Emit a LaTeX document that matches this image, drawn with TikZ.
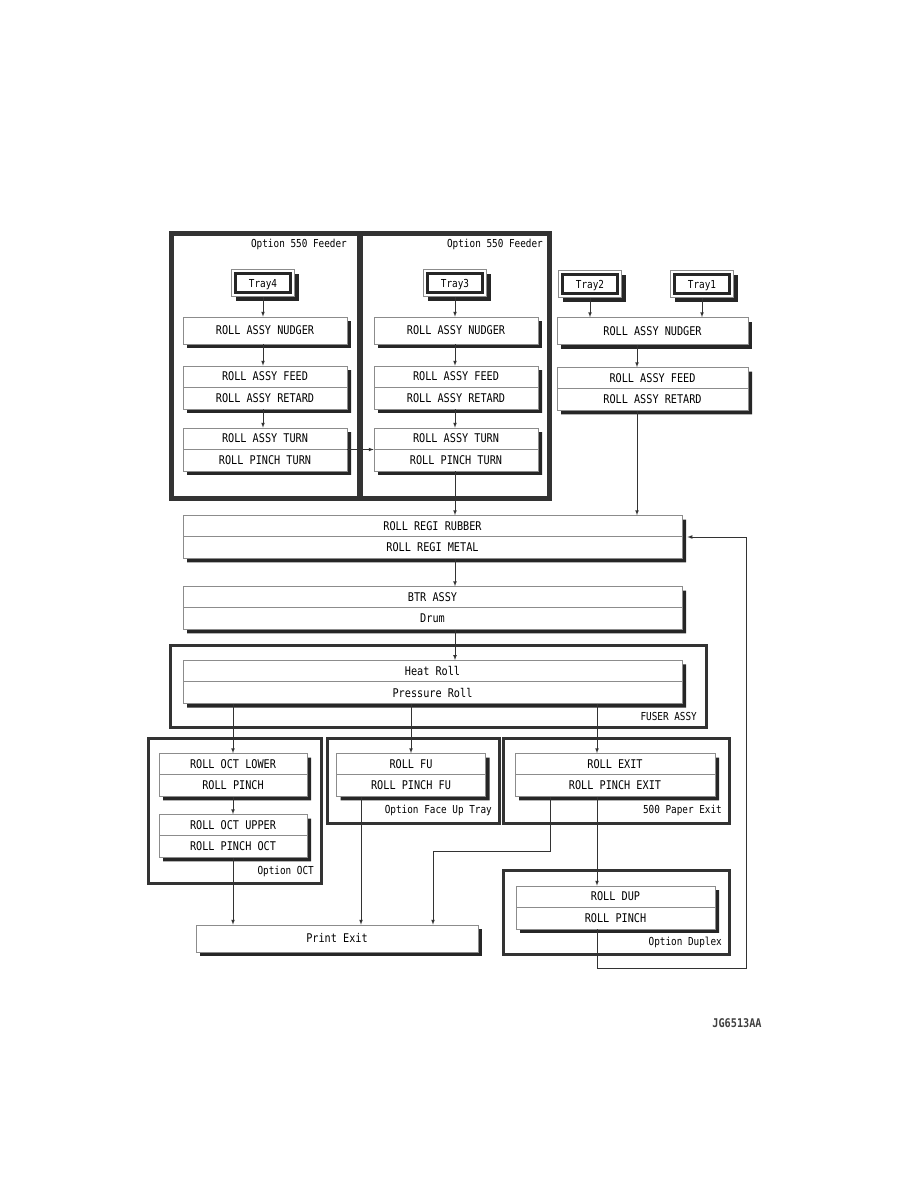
\documentclass[tikz,border=0pt]{standalone}
\usepackage{fontspec}
\newfontfamily\partfont[FakeStretch=0.85]{DejaVu Sans Mono}
\usepackage{tikz}
\usetikzlibrary{shapes.multipart}
\usetikzlibrary{shadows}
\usetikzlibrary{arrows}

\tikzset{
	rollbase/.style={draw=black!45, line width=0.7pt, fill=white, inner xsep=0pt,
		font=\partfont\fontsize{12}{14}\selectfont, text height=8.5pt, text depth=0pt,
		drop shadow={shadow xshift=4pt, shadow yshift=-4pt, fill=black!85, opacity=1}},
	rollbox/.style={rollbase, minimum width=#1pt, minimum height=27pt, inner ysep=0pt},
	rollpair/.style={rollbase, rectangle split, rectangle split parts=2,
		text width=#1pt, align=flush center, inner ysep=6pt},
	traybox/.style={rollbase, minimum width=63pt, minimum height=27pt, inner ysep=0pt,
		font=\partfont\fontsize{11}{13}\selectfont,
		path picture={\draw[line width=2.4pt, black!85]
			([shift={(4pt,-4pt)}]path picture bounding box.north west) rectangle
			([shift={(-4pt,4pt)}]path picture bounding box.south east);}},
	unitframe/.style={draw=black!80, line width=3pt},
	unitlabel/.style={anchor=east, inner sep=0pt, font=\partfont\fontsize{11}{13}\selectfont},
	sheet/.style={draw=black!80, line width=0.7pt, -latex},
}

\begin{document}
\begin{tikzpicture}[x=1pt, y=-1pt]
		\useasboundingbox (0,0) rectangle (918,1188);
		
		\draw [unitframe, line width=5pt] (171,233) rectangle (359,498);
		\draw [unitframe, line width=5pt] (360,233) rectangle (549,498);
		\draw [unitframe] (170,645) rectangle (706,727);
		\draw [unitframe] (148,738) rectangle (321,883);
		\draw [unitframe] (327,738) rectangle (499,823);
		\draw [unitframe] (503,738) rectangle (729,823);
		\draw [unitframe] (503,870) rectangle (729,954);
		
		\node[unitlabel] (feederL) at (347,244) {Option 550 Feeder};
		\node[unitlabel] (feederM) at (543,244) {Option 550 Feeder};
		\node[unitlabel] (fuserlbl) at (697,716) {FUSER ASSY};
		\node[unitlabel] (octlbl) at (314,871) {Option OCT};
		\node[unitlabel] (fulbl) at (492,810) {Option Face Up Tray};
		\node[unitlabel] (exitlbl) at (722,810) {500 Paper Exit};
		\node[unitlabel] (duplbl) at (722,942) {Option Duplex};
		
		\node[traybox] (tray4) at (263,283) {Tray4};
		\node[traybox] (tray3) at (455,283) {Tray3};
		\node[traybox] (tray2) at (590,284) {Tray2};
		\node[traybox] (tray1) at (702,284) {Tray1};
		
		\node[rollbox=164] (nudL) at (265,330.5) {ROLL ASSY NUDGER};
		\node[rollbox=164] (nudM) at (456,330.5) {ROLL ASSY NUDGER};
		\node[rollbox=191] (nudR) at (652.5,331) {ROLL ASSY NUDGER};
		\node[rollpair=164] (feedL) at (265,387.5) {ROLL ASSY FEED \nodepart{two} ROLL ASSY RETARD};
		\node[rollpair=164] (feedM) at (456,387.5) {ROLL ASSY FEED \nodepart{two} ROLL ASSY RETARD};
		\node[rollpair=191] (feedR) at (652.5,389) {ROLL ASSY FEED \nodepart{two} ROLL ASSY RETARD};
		\node[rollpair=164] (turnL) at (265,449.5) {ROLL ASSY TURN \nodepart{two} ROLL PINCH TURN};
		\node[rollpair=164] (turnM) at (456,449.5) {ROLL ASSY TURN \nodepart{two} ROLL PINCH TURN};
		
		\node[rollpair=499] (regi) at (432.5,537) {ROLL REGI RUBBER \nodepart{two} ROLL REGI METAL};
		\node[rollpair=499] (btr) at (432.5,608) {BTR ASSY \nodepart{two} Drum};
		\node[rollpair=499] (heat) at (432.5,682) {Heat Roll \nodepart{two} Pressure Roll};
		
		\node[rollpair=148] (octlow) at (233,775) {ROLL OCT LOWER \nodepart{two} ROLL PINCH};
		\node[rollpair=148] (octup) at (233,836) {ROLL OCT UPPER \nodepart{two} ROLL PINCH OCT};
		\node[rollpair=149] (fu) at (411,775) {ROLL FU \nodepart{two} ROLL PINCH FU};
		\node[rollpair=200] (exit) at (615,775) {ROLL EXIT \nodepart{two} ROLL PINCH EXIT};
		\node[rollpair=199] (dup) at (615.5,907.5) {ROLL DUP \nodepart{two} ROLL PINCH};
		\node[rollbox=282] (printexit) at (337,938.5) {Print Exit};
		
		\coordinate (rcol) at (637,0);
		\coordinate (dcol) at (597,0);
		\coordinate (fucol) at (361,0);
		\coordinate (xcol) at (550,0);
		\coordinate (exitturn) at (433,851);
		\coordinate (dupret) at (746,968);
		
		\draw [sheet] (tray4.south) -- (tray4.south |- nudL.north);
		\draw [sheet] (tray3.south) -- (tray3.south |- nudM.north);
		\draw [sheet] (tray2.south) -- (tray2.south |- nudR.north);
		\draw [sheet] (tray1.south) -- (tray1.south |- nudR.north);
		\draw [sheet] (nudL.south -| tray4) -- (feedL.north -| tray4);
		\draw [sheet] (nudM.south -| tray3) -- (feedM.north -| tray3);
		\draw [sheet] (nudR.south -| rcol) -- (feedR.north -| rcol);
		\draw [sheet] (feedL.south -| tray4) -- (turnL.north -| tray4);
		\draw [sheet] (feedM.south -| tray3) -- (turnM.north -| tray3);
		\draw [sheet] (turnL.east) -- (turnM.west);
		\draw [sheet] (turnM.south -| tray3) -- (regi.north -| tray3);
		\draw [sheet] (feedR.south -| rcol) -- (regi.north -| rcol);
		\draw [sheet] (regi.south -| tray3) -- (btr.north -| tray3);
		\draw [sheet] (btr.south -| tray3) -- (heat.north -| tray3);
		
		\draw [sheet] (heat.south -| octlow) -- (octlow.north);
		\draw [sheet] (heat.south -| fu) -- (fu.north);
		\draw [sheet] (heat.south -| dcol) -- (exit.north -| dcol);
		\draw [sheet] (octlow.south) -- (octup.north);
		\draw [sheet] (octup.south) -- (octup.south |- printexit.north);
		\draw [sheet] (fu.south -| fucol) -- (printexit.north -| fucol);
		\draw [sheet] (exit.south -| xcol) |- (exitturn) -- (exitturn |- printexit.north);
		\draw [sheet] (exit.south -| dcol) -- (dup.north -| dcol);
		\draw [sheet] (dup.south -| dcol) |- (dupret) |- ([xshift=5pt]regi.east);
		
		\node[font=\partfont\fontsize{12}{14}\selectfont\bfseries, text=black!75] (docid) at (737,1023) {JG6513AA};
	\end{tikzpicture}
\end{document}
